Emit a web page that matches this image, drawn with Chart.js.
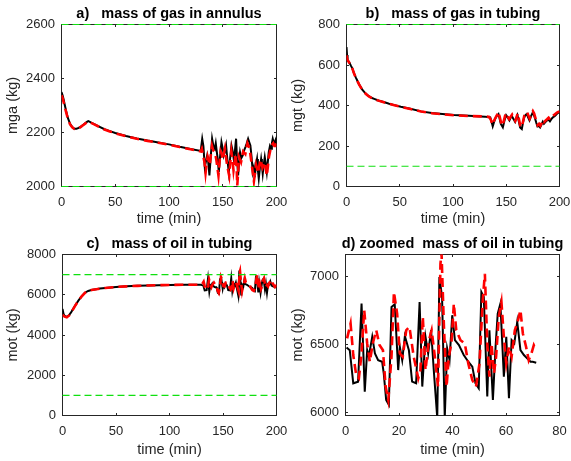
<!DOCTYPE html>
<html>
<head>
<meta charset="utf-8">
<script src="https://cdn.jsdelivr.net/npm/chart.js@4.4.1/dist/chart.umd.min.js"></script>
<style>
  html, body { margin: 0; padding: 0; background: #fff; }
  #fig { position: relative; width: 571px; height: 461px; overflow: hidden; }
  #fig canvas { position: absolute; }
</style>
</head>
<body>
<div id="fig">
  <canvas id="pa" width="300" height="230" style="left:0;top:0"></canvas>
  <canvas id="pb" width="286" height="230" style="left:285px;top:0"></canvas>
  <canvas id="pc" width="300" height="231" style="left:0;top:230px"></canvas>
  <canvas id="pd" width="286" height="231" style="left:285px;top:230px"></canvas>
</div>
<script>
// tick labels
const timeTicks = [0, 50, 100, 150, 200];
const zoomTimeTicks = [0, 20, 40, 60, 80];
const mgaTicks = [2000, 2200, 2400, 2600];
const mgtTicks = [0, 200, 400, 600, 800];
const motTicks = [0, 2000, 4000, 6000, 8000];
const motZoomTicks = [6000, 6500, 7000];

// a) mass of gas in annulus
const tMgaBlack = [0,1,2,3,4,5,6,8,10,12,14,16,18,20,22,24,25,26,28,30,35,40,45,50,60,70,80,90,100,110,120,129.5,
  130.9,132,133.3,134.5,135.5,136.5,137.6,139,140.1,141.3,142.6,143.5,144.5,145.4,146.3,147.5,148.8,150,150.9,152,
  153.1,154.3,155.6,157,158.1,159.3,160.6,161.5,162.4,163.3,164.3,165.2,166.1,167.3,168.6,170,171.1,172.3,173.6,
  174.6,175.7,176.8,177.9,178.9,179.8,180.9,181.9,182.7,183.5,184.6,185.7,186.4,187.2,188.1,189.1,190,191,191.9,
  192.8,193.9,195,195.7,196.5,197.3,198.1,198.9,199.6,200];
const mgaBlack = [2350,2338,2322,2303,2285,2268,2253,2232,2220,2214,2214,2217,2222,2228,2234,2240,2242,2240,2236,2232,
  2222,2212,2205,2198,2187,2178,2170,2163,2156,2147,2139,2132,
  2177,2150,2072,2095,2115,2090,2041,2120,2177,2150,2140,2160,2127,2100,2053,2110,2164,2140,2115,2130,
  2152,2100,2053,2110,2152,2130,2090,2140,2177,2100,2041,2090,2127,2105,2115,2135,2146,2160,2177,
  2165,2152,2110,2053,2070,2035,2080,2102,2060,2029,2070,2102,2080,2047,2080,2109,2085,2053,2090,
  2127,2150,2140,2160,2177,2165,2158,2170,2177,2150];
const tMgaRed = [0,1,2,3,4,5,6,8,10,12,14,16,18,20,22,24,25,26,28,30,35,40,45,50,60,70,80,90,100,110,120,129.5,
  130.5,131.5,133,134,135,136,137,138,139,140,141,142,143,144,145,146,147,148,149,150,151,152,153,154,155,156,157,
  158,159,160,161,162,163,163.5,164.3,165,166,167,168,169,170,171,172,173,174,175,176,177,178,179,180,181,182,183,
  184,185,186,187,188,189,190,191,192,193,194,195,196,197,198,199,200];
const mgaRed = [2338,2328,2312,2296,2280,2265,2250,2230,2219,2213,2213,2216,2221,2227,2233,2239,2241,2239,2235,2231,
  2221,2211,2204,2197,2186,2177,2169,2162,2155,2146,2138,2130,
  2140,2120,2090,2050,2085,2110,2095,2080,2120,2150,2135,2130,2120,2100,2070,2040,2090,2130,2120,2100,2120,2140,
  2110,2080,2060,2040,2090,2130,2100,2060,2090,2120,2060,2004,2050,2110,2100,2090,2110,2130,2125,2120,2140,2160,
  2150,2140,2110,2080,2050,2020,2050,2080,2065,2050,2075,2100,2085,2070,2080,2090,2065,2040,2075,2110,2130,2150,
  2155,2160,2150,2150,2160];
const mgaLimits = [2000, 2600];

// b) mass of gas in tubing
const tMgtBlack = [0,0.5,1,2.5,4,5.6,7,8.7,10.3,12,15,18,21,24,26,30,35,40,45,51,60,70,80,90,101,115,130,
  132,135,136.2,137.3,138.5,139.6,141,142.7,143.8,144.9,146.8,148.3,149.9,151.5,153,154,155.2,156.8,158.3,159.5,
  160.5,161.8,163,164.6,165.7,166.8,168,169.3,170.5,171.8,173.3,174.9,176,177.1,178.2,179.3,180.5,181.8,183,184.3,
  185.4,186.5,188,189.6,191,192.8,194.4,195.9,197.4,199,200];
const mgtBlack = [688,650,622,614,598,582,560,539,521,503,477,459,446,437,433,425,417,409,402,394,384,371,363,358,353,349,345,
  343,341,320,297,318,334,348,358,335,309,292,325,352,340,327,338,348,333,319,338,
  352,322,292,284,315,341,352,358,342,327,348,366,352,335,315,297,300,292,305,320,
  310,317,325,330,322,336,344,350,358,366,363];
const tMgtRed = [0,1,2.5,4,5.6,7,8.7,10.3,12,15,18,21,24,26,30,35,40,45,51,60,70,80,90,101,115,130,
  132,134,135.5,137,138.5,140,141.5,142.5,143.8,145,146.5,148,149.5,151,152.7,154,155.5,157,158.5,159.8,160.8,162,
  163.2,164.5,165.8,167,168.3,169.5,170.8,172,173.5,175,176.2,177.3,178.5,179.5,180.8,182,183.2,184.5,185.6,186.8,
  188.3,189.8,191.3,193,194.6,196,197.6,199,200];
const mgtRed = [648,625,612,597,581,559,538,520,502,476,458,445,436,432,424,416,408,401,393,383,370,362,357,352,348,346,
  345,343,330,305,325,340,355,368,345,318,300,330,362,348,333,343,355,338,324,345,362,330,
  300,292,322,350,360,368,350,335,355,372,360,340,318,303,310,300,312,328,318,325,
  332,340,330,345,352,358,365,368,372];
const mgtLimits = [100, 800];

// d) zoomed mass of oil in tubing (also the tail of panel c, shifted by zoomStart)
const zoomStart = 130;
const tMotZoomBlack = [0.4,1.6,2.9,4.7,6.0,7.2,8.1,8.7,10.0,11.0,12.2,13.7,14.3,15.2,16.2,17.2,18.4,19.7,20.3,21.2,
  22.2,23.7,24.9,26.4,27.7,28.7,29.9,30.9,32.0,33.0,34.3,35.1,36.1,37.1,38.0,38.9,39.9,40.9,42.4,44.2,45.9,47.4,
  48.6,49.8,50.8,51.7,53.0,53.8,55.1,56.1,56.9,57.9,59.2,60.1,61.1,62.1,63.1,64.2,65.4,66.7,67.9,69.2,70.0,71.3];
const motZoomBlack = [6477,6457,6214,6226,6798,6153,6457,6409,6555,6433,6384,6372,6287,6092,6056,6774,6793,6311,6482,6384,
  6560,6457,6226,6214,6810,6190,6555,6433,6603,6311,5960,6993,6847,5960,6470,6384,6713,6530,6494,6421,6372,6336,
  6214,6178,6883,6847,6117,6603,6092,6482,6725,6798,6263,6555,6105,6530,6506,6664,6457,6421,6397,6372,6372,6365];
const tMotZoomRed = [0.6,1.9,2.9,4.0,5.0,6.0,7.0,8.1,9.1,10.2,11.5,12.7,14.0,15.0,16.0,17.2,18.1,19.3,20.3,21.4,
  22.7,23.9,25.5,27.2,28.0,28.9,29.9,31.2,32.2,33.4,34.6,35.5,35.9,36.8,37.8,38.6,39.6,40.5,41.4,43.0,44.6,45.9,
  47.4,48.8,50.1,51.3,52.1,53.0,53.8,54.6,55.5,56.3,57.3,58.3,59.2,60.1,61.1,62.1,63.3,64.5,65.4,66.3,67.5,68.5,
  69.5,70.4,71.3];
const motZoomRed = [6543,6652,6421,6275,6251,6433,6750,6506,6372,6506,6603,6494,6457,6190,6092,6409,6883,6725,6433,6409,
  6603,6628,6409,6251,6311,6701,6311,6530,6603,6409,6190,7090,7170,6628,6190,6409,6506,6798,6603,6530,6506,6360,
  6238,6190,6360,6822,7017,6506,6263,6506,6287,6409,6701,6810,6555,6360,6482,6409,6603,6676,6750,6579,6482,6384,
  6433,6494,6457];

// c) mass of oil in tubing, start-up part before the oscillations
const tMotBlack = [0,1,2,4,6,8,10,12,15,18,21,24,27,30,35,40,50,60,70,80,90,100,115,129.5];
const motBlack = [5300,5050,4950,4900,4980,5120,5300,5480,5720,5930,6100,6190,6235,6265,6305,6340,6390,6420,6445,6465,6478,6488,6498,6495];
const tMotRed = [0,1,2,4,6,8,10,12,15,18,21,24,27,30,35,40,50,60,70,80,90,100,115,129.5];
const motRed = [5000,4960,4910,4880,4960,5110,5290,5470,5715,5925,6095,6188,6232,6262,6302,6338,6388,6418,6443,6463,6476,6486,6496,6500];
const motLimits = [1000, 7000];

const FONT = '"Liberation Sans", Arial, Helvetica, sans-serif';
const AXIS_COLOR = '#262626';
const TICK_LEN = 2.5;

function pts(ts, vs) {
  return ts.map((t, i) => ({x: t, y: vs[i]}));
}

function hline(v, x0, x1) {
  return {
    data: [{x: x0, y: v}, {x: x1, y: v}],
    borderColor: '#10e010', borderWidth: 1.1, borderDash: [7, 4],
    pointRadius: 0, clip: 2
  };
}

// box, inward ticks on all four sides and bold title, drawn the MATLAB way
const matlabAxes = {
  id: 'matlabAxes',
  beforeDatasetsDraw(chart) {
    const {ctx, chartArea: a, scales} = chart;
    const snap = p => Math.floor(p) + 0.5;
    ctx.save();
    ctx.strokeStyle = AXIS_COLOR;
    ctx.lineWidth = 1;
    ctx.beginPath();
    scales.x.ticks.forEach(t => {
      const px = snap(scales.x.getPixelForValue(t.value));
      ctx.moveTo(px, a.bottom); ctx.lineTo(px, a.bottom - TICK_LEN);
      ctx.moveTo(px, a.top); ctx.lineTo(px, a.top + TICK_LEN);
    });
    scales.y.ticks.forEach(t => {
      const py = snap(scales.y.getPixelForValue(t.value));
      ctx.moveTo(a.left, py); ctx.lineTo(a.left + TICK_LEN, py);
      ctx.moveTo(a.right, py); ctx.lineTo(a.right - TICK_LEN, py);
    });
    ctx.stroke();
    ctx.strokeRect(a.left, a.top, a.width, a.height);
    ctx.restore();
  },
  afterDraw(chart, args, opts) {
    const {ctx, chartArea: a} = chart;
    ctx.save();
    ctx.font = 'bold 14.5px ' + FONT;
    ctx.fillStyle = '#000';
    ctx.textAlign = 'center';
    ctx.textBaseline = 'alphabetic';
    ctx.fillText(opts.text, (a.left + a.right) / 2, a.top - 7);
    ctx.restore();
  }
};

function panel(id, o) {
  const tickFont = {family: FONT, size: 13};
  const labelFont = {family: FONT, size: 14.5};
  new Chart(document.getElementById(id), {
    type: 'line',
    data: {datasets: o.datasets},
    options: {
      responsive: false,
      animation: false,
      // chart area edges sit on half pixels so the 1px box is crisp
      layout: {padding: {left: 0, top: o.top + 0.5, right: o.right - 0.5, bottom: 0}},
      plugins: {legend: {display: false}, tooltip: {enabled: false}, matlabAxes: {text: o.title}},
      elements: {line: {tension: 0, fill: false}, point: {radius: 0}},
      scales: {
        x: {
          type: 'linear', min: o.xMin, max: o.xMax,
          afterBuildTicks: s => { s.ticks = o.xTicks.map(v => ({value: v})); },
          afterFit: s => { s.height = o.xHeight - 0.5; s.paddingLeft = 0; s.paddingRight = 0; },
          grid: {display: false, drawTicks: false}, border: {display: false},
          ticks: {autoSkip: false, maxRotation: 0, padding: 8.5,
                  color: AXIS_COLOR, font: tickFont, callback: v => String(v)},
          title: {display: true, text: 'time (min)', color: AXIS_COLOR, font: labelFont, padding: {top: 0, bottom: 2}}
        },
        y: {
          type: 'linear', min: o.yMin, max: o.yMax,
          afterBuildTicks: s => { s.ticks = o.yTicks.map(v => ({value: v})); },
          afterFit: s => { s.width = o.left + 0.5; s.paddingTop = 0; s.paddingBottom = 0; },
          grid: {display: false, drawTicks: false}, border: {display: false},
          ticks: {autoSkip: false, padding: 6.5,
                  color: AXIS_COLOR, font: tickFont, callback: v => String(v)},
          title: {display: true, text: o.yLabel, color: AXIS_COLOR, font: labelFont, padding: {top: 4, bottom: 0}}
        }
      }
    },
    plugins: [matlabAxes]
  });
}

function lines(blackPts, redPts, limits) {
  const sets = limits.map(v => hline(v, 0, 200));
  sets.push({data: redPts, borderColor: '#ff0000', borderWidth: 2.6, borderDash: [9, 5], pointRadius: 0});
  sets.push({data: blackPts, borderColor: '#000000', borderWidth: 2, pointRadius: 0});
  return sets;
}

const shift = ts => ts.map(t => t + zoomStart);

panel('pa', {
  title: 'a)   mass of gas in annulus', yLabel: 'mga (kg)',
  left: 61, right: 24, top: 24, xHeight: 44,
  xMin: 0, xMax: 200, xTicks: timeTicks, yMin: 2000, yMax: 2600, yTicks: mgaTicks,
  datasets: lines(pts(tMgaBlack, mgaBlack), pts(tMgaRed, mgaRed), mgaLimits)
});

panel('pb', {
  title: 'b)   mass of gas in tubing', yLabel: 'mgt (kg)',
  left: 61, right: 12, top: 24, xHeight: 44,
  xMin: 0, xMax: 200, xTicks: timeTicks, yMin: 0, yMax: 800, yTicks: mgtTicks,
  datasets: lines(pts(tMgtBlack, mgtBlack), pts(tMgtRed, mgtRed), mgtLimits)
});

panel('pc', {
  title: 'c)   mass of oil in tubing', yLabel: 'mot (kg)',
  left: 62, right: 24, top: 24, xHeight: 46,
  xMin: 0, xMax: 200, xTicks: timeTicks, yMin: 0, yMax: 8000, yTicks: motTicks,
  datasets: lines(
    pts(tMotBlack.concat(shift(tMotZoomBlack)), motBlack.concat(motZoomBlack)),
    pts(tMotRed.concat(shift(tMotZoomRed)), motRed.concat(motZoomRed)),
    motLimits)
});

panel('pd', {
  title: 'd) zoomed  mass of oil in tubing', yLabel: 'mot (kg)',
  left: 60, right: 12, top: 24, xHeight: 46,
  xMin: 0, xMax: 80, xTicks: zoomTimeTicks, yMin: 5978, yMax: 7158, yTicks: motZoomTicks,
  datasets: lines(pts(tMotZoomBlack, motZoomBlack), pts(tMotZoomRed, motZoomRed), [])
});
</script>
</body>
</html>
